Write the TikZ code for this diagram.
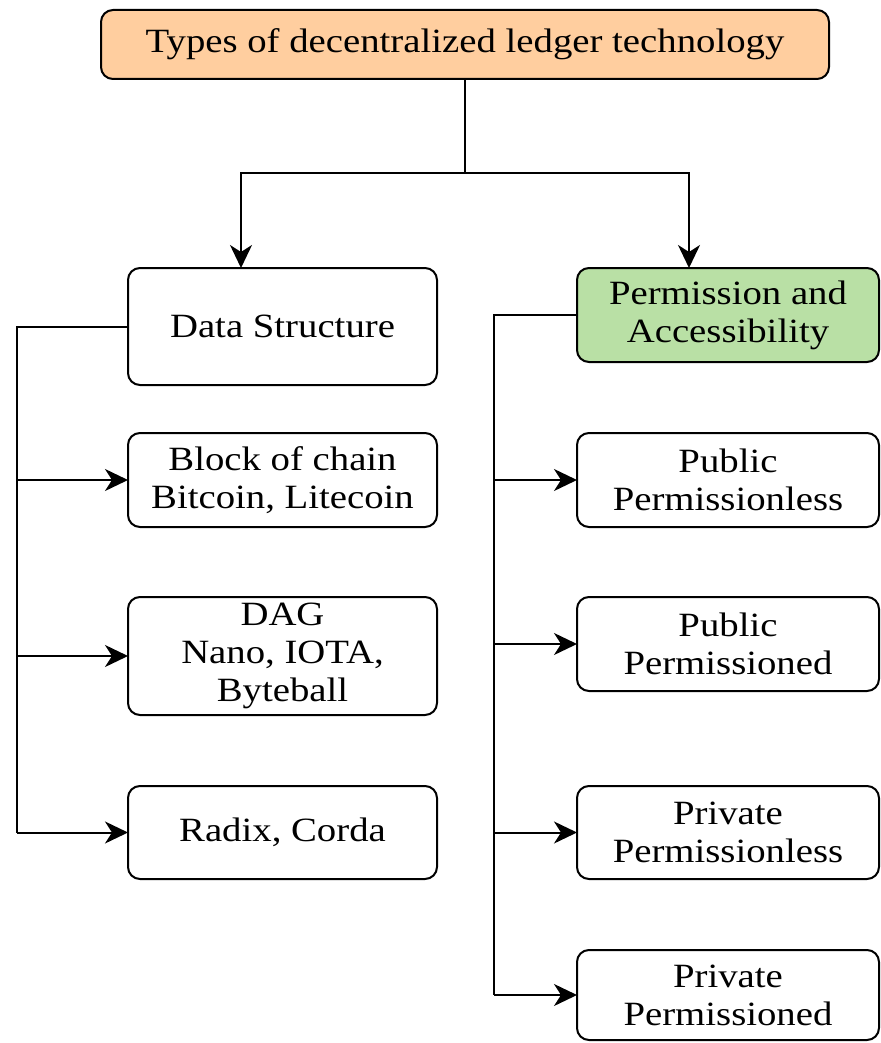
\documentclass[tikz,border=0pt]{standalone}
\usepackage{fontspec}
\setmainfont{Liberation Serif}[FakeStretch=1.14]
\usetikzlibrary{arrows.meta}
\definecolor{peach}{RGB}{255,206,159}
\definecolor{leaf}{RGB}{185,224,165}
\begin{document}
\begin{tikzpicture}[x=1pt,y=-1pt,
  box/.style={draw=black,line width=2pt,rounded corners=12pt,fill=white,
    align=center,inner sep=0pt,outer sep=0pt,
    font=\fontsize{34}{38}\selectfont},
  leftbox/.style={box,minimum width=309pt},
  rightbox/.style={box,minimum width=302pt},
  link/.style={line width=2pt,-{Stealth[length=23pt,width=22pt,inset=7pt]}},
  plain/.style={line width=2pt}]
\useasboundingbox (0,0) rectangle (880,1043);

% root
\node[box,fill=peach,minimum width=728pt,minimum height=69pt] (root) at (465,44.5)
  {Types of decentralized ledger technology};

% left column: data structure
\node[leftbox,minimum height=117pt] (ds) at (282.5,326.5) {Data Structure};
\node[leftbox,minimum height=94pt] (bc) at (282.5,480) {Block of chain\\Bitcoin, Litecoin};
\node[leftbox,minimum height=118pt] (dag) at (282.5,656) {DAG\\Nano, IOTA,\\Byteball};
\node[leftbox,minimum height=93pt] (rc) at (282.5,832.5) {Radix, Corda};

% right column: permission and accessibility
\node[rightbox,fill=leaf,minimum height=94pt] (pa) at (728,315) {Permission and\\Accessibility};
\node[rightbox,minimum height=94pt] (pul) at (728,480) {Public\\Permissionless};
\node[rightbox,minimum height=94pt] (pud) at (728,644) {Public\\Permissioned};
\node[rightbox,minimum height=93pt] (prl) at (728,832.5) {Private\\Permissionless};
\node[rightbox,minimum height=90pt] (prd) at (728,995) {Private\\Permissioned};

% branch from the root
\coordinate (split) at (465,173);
\coordinate (lx) at (241,173);
\coordinate (rx) at (689,173);
\draw[plain] (root.south) -- (split);
\draw[link] (split) -- (lx) -- (lx |- ds.north);
\draw[link] (split) -- (rx) -- (rx |- pa.north);

% left spine
\coordinate (ls) at (17,0);
\draw[plain] (ds.west) -- (ls |- ds.west) -- (ls |- rc.west);
\foreach \n in {bc,dag,rc}
  \draw[link] (ls |- \n.west) -- (\n.west);

% right spine
\coordinate (rs) at (494,0);
\draw[plain] (pa.west) -- (rs |- pa.west) -- (rs |- prd.west);
\foreach \n in {pul,pud,prl,prd}
  \draw[link] (rs |- \n.west) -- (\n.west);
\end{tikzpicture}
\end{document}
